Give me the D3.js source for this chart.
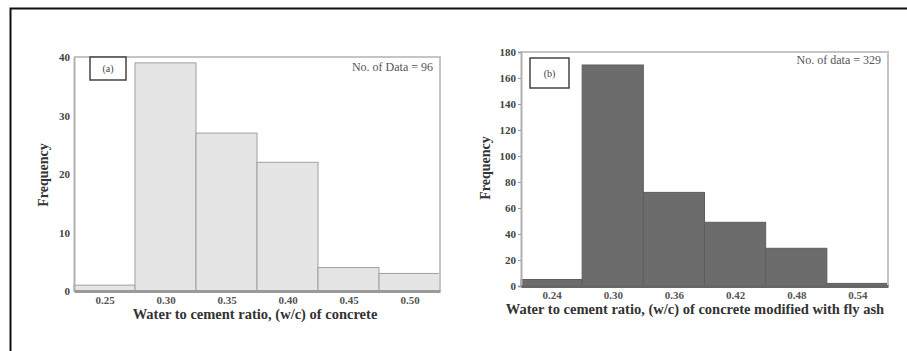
<!DOCTYPE html>
<html><head><meta charset="utf-8">
<script src="https://cdn.jsdelivr.net/npm/d3@7"></script>
<style>html,body{margin:0;padding:0;background:#fff;}svg{display:block;}</style>
</head><body>
<svg id="c" width="907" height="351"></svg>
<script>
// Panel (a): plain concrete
const binsA = [0.25, 0.30, 0.35, 0.40, 0.45, 0.50];
const countsA = [1, 39, 27, 22, 4, 3];
const binWidthA = 0.05;
const yTicksA = [0, 10, 20, 30, 40];
const xTickLabelsA = ["0.25", "0.30", "0.35", "0.40", "0.45", "0.50"];
// Panel (b): concrete modified with fly ash
const binsB = [0.24, 0.30, 0.36, 0.42, 0.48, 0.54];
const countsB = [5, 170, 72, 49, 29, 2];
const binWidthB = 0.06;
const yTicksB = [0, 20, 40, 60, 80, 100, 120, 140, 160, 180];
const xTickLabelsB = ["0.24", "0.30", "0.36", "0.42", "0.48", "0.54"];

const svg = d3.select("#c");
const serif = "'Liberation Serif','Times New Roman',serif";

// outer black frame
svg.append("rect").attr("x", 10.5).attr("y", 8.5).attr("width", 910).attr("height", 360)
  .attr("fill", "none").attr("stroke", "#111").attr("stroke-width", 2);

function panel(o) {
  const g = svg.append("g");
  const x = d3.scaleLinear().domain([o.bins[0] - o.w / 2, o.bins[o.bins.length - 1] + o.w / 2]).range([o.x0, o.x1]);
  const y = d3.scaleLinear().domain([0, o.ymax]).range([o.y1, o.y0]);

  // bars
  g.selectAll("rect.bar").data(o.bins).join("rect").attr("class", "bar")
    .attr("x", d => x(d - o.w / 2))
    .attr("width", d => x(d + o.w / 2) - x(d - o.w / 2))
    .attr("y", (d, i) => y(o.counts[i]))
    .attr("height", (d, i) => y(0) - y(o.counts[i]))
    .attr("fill", o.fill).attr("stroke", o.stroke).attr("stroke-width", 1);

  // frame top/right
  g.append("path").attr("d", `M${o.x0},${o.y0}H${o.x1}V${o.y1}`)
    .attr("fill", "none").attr("stroke", "#c4c4c4").attr("stroke-width", 2);

  // y axis
  const ya = g.append("g").attr("transform", `translate(${o.x0},0)`)
    .call(d3.axisLeft(y).tickValues(o.yTicks).tickSize(o.yTickSize).tickPadding(o.yTickPad).tickFormat(d3.format("d")));
  ya.select(".domain").attr("stroke", "#b0b0b0").attr("stroke-width", 2);
  ya.selectAll(".tick line").attr("stroke", "#999");
  ya.selectAll("text").attr("font-family", serif).attr("font-size", 11).attr("font-weight", "bold").attr("fill", "#444");

  // x axis
  const xa = g.append("g").attr("transform", `translate(0,${o.y1})`)
    .call(d3.axisBottom(x).tickValues(o.bins).tickSize(0).tickPadding(5).tickFormat((d, i) => o.xLabels[i]));
  xa.select(".domain").attr("stroke", o.baseColor).attr("stroke-width", 3);
  xa.selectAll("text").attr("font-family", serif).attr("font-size", 11).attr("font-weight", "bold").attr("fill", "#555");

  // panel label box
  g.append("rect").attr("x", o.box[0]).attr("y", o.box[1]).attr("width", o.box[2]).attr("height", o.box[3])
    .attr("fill", "#fff").attr("stroke", "#444").attr("stroke-width", 1.5);
  g.append("text").attr("x", o.box[0] + o.box[2] / 2).attr("y", o.box[1] + o.box[3] / 2 + 3.5)
    .attr("text-anchor", "middle").attr("font-family", serif).attr("font-size", 10).attr("fill", "#444").text(o.tag);

  // count text
  g.append("text").attr("x", o.x1 - 7).attr("y", o.y0 + o.noteDy).attr("text-anchor", "end")
    .attr("font-family", serif).attr("font-size", 12).attr("fill", "#555").text(o.note);

  // x title
  g.append("text").attr("x", o.titleX).attr("y", o.y1 + 28).attr("text-anchor", "middle")
    .attr("font-family", serif).attr("font-size", 14.5).attr("font-weight", "bold").attr("fill", "#333").text(o.title);

  // y title
  g.append("text").attr("transform", `translate(${o.ytX},${o.ytY}) rotate(-90)`).attr("text-anchor", "middle")
    .attr("font-family", serif).attr("font-size", 14).attr("font-weight", "bold").attr("fill", "#333").text("Frequency");
}

panel({
  bins: binsA, counts: countsA, w: binWidthA, ymax: 40, yTicks: yTicksA, xLabels: xTickLabelsA,
  x0: 74, x1: 440, y0: 57, y1: 291,
  fill: "#e5e5e5", stroke: "#a0a0a0", baseColor: "#9a9a9a",
  yTickSize: 0, yTickPad: 4,
  box: [90, 57, 36, 23], tag: "(a)",
  note: "No. of Data = 96", noteDy: 14,
  title: "Water to cement ratio, (w/c) of concrete", titleX: 255,
  ytX: 48, ytY: 175
});

panel({
  bins: binsB, counts: countsB, w: binWidthB, ymax: 180, yTicks: yTicksB, xLabels: xTickLabelsB,
  x0: 521, x1: 888, y0: 52, y1: 286,
  fill: "#6c6c6c", stroke: "#5e5e5e", baseColor: "#666",
  yTickSize: 3, yTickPad: 2,
  box: [530, 58, 39, 30], tag: "(b)",
  note: "No. of data = 329", noteDy: 12,
  title: "Water to cement ratio, (w/c) of concrete modified with fly ash", titleX: 695,
  ytX: 490, ytY: 168
});
</script>
</body></html>
